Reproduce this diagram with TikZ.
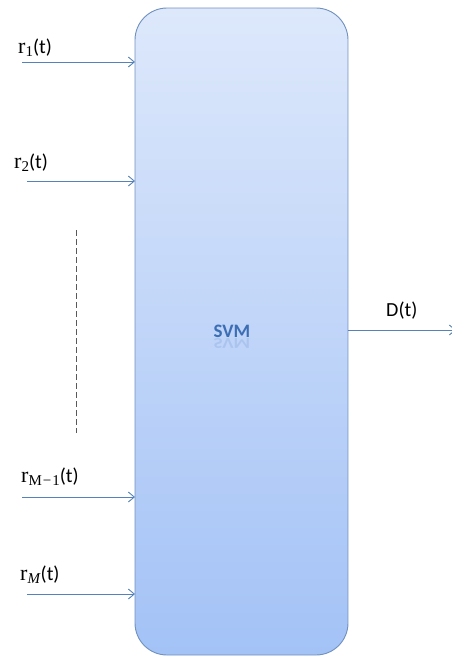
\documentclass[tikz,border=0pt]{standalone}
\usepackage{fontspec}
\setmainfont{Carlito}
\newfontfamily\rfont{Liberation Serif}
\usetikzlibrary{arrows.meta}
\definecolor{arrowc}{HTML}{5582B8}
\definecolor{boxedge}{HTML}{7090BE}
\definecolor{boxtop}{HTML}{DDE8FB}
\definecolor{boxbot}{HTML}{A3C2F6}
\definecolor{svmc}{HTML}{3C6EB4}
\newcommand{\rsig}[1]{{\rfont\fontsize{22}{22}\selectfont r}\raisebox{-3.5pt}{\rfont\fontsize{15}{15}\selectfont #1}(t)}
\tikzset{
  inarrow/.style={draw=arrowc, line width=0.9pt, -{Straight Barb[length=6pt,width=10pt]}},
  lbl/.style={inner sep=0pt, anchor=base west, font=\fontsize{20}{22}\selectfont},
  svmbox/.style={draw=boxedge, line width=0.9pt, rounded corners=32pt, top color=boxtop, bottom color=boxbot}
}
\begin{document}
\begin{tikzpicture}[x=1pt,y=-1pt]
\useasboundingbox (0,0) rectangle (452,659);
\path[svmbox] (135,8) rectangle (348,655);
\node[inner sep=0pt, minimum width=213pt, minimum height=647pt] (svm) at (241.5,331.5) {};
\node[font=\bfseries\fontsize{19}{20}\selectfont, text=svmc, inner sep=0pt] (svmtxt) at (232,331) {SVM};
\node[font=\bfseries\fontsize{19}{20}\selectfont, text=svmc, inner sep=0pt, yscale=-0.8, opacity=0.15] (svmref) at (232,343) {SVM};
% inputs
\coordinate (s1) at (22,62);  \coordinate (e1) at (135,62);
\coordinate (s2) at (27,181); \coordinate (e2) at (135,181);
\coordinate (s3) at (22,497); \coordinate (e3) at (135,497);
\coordinate (s4) at (27,594); \coordinate (e4) at (135,594);
\draw[inarrow] (s1) -- (e1);
\draw[inarrow] (s2) -- (e2);
\draw[inarrow] (s3) -- (e3);
\draw[inarrow] (s4) -- (e4);
\node[lbl] (l1) at (18,53) {\rsig{1}};
\node[lbl] (l2) at (14,168) {\rsig{2}};
\node[lbl] (l3) at (21,482) {\rsig{M\kern1pt\char"2212\kern1pt 1}};
\node[lbl] (l4) at (20,580) {\rsig{\textit{M}}};
% dashed
\coordinate (d1) at (76,230); \coordinate (d2) at (76,433);
\draw[draw=black!65, line width=0.8pt, dash pattern=on 6pt off 3pt] (d1) -- (d2);
% output
\coordinate (o1) at (348,330); \coordinate (o2) at (456,330);
\draw[inarrow] (o1) -- (o2);
\node[lbl] (lo) at (386,316) {D(t)};
\end{tikzpicture}
\end{document}
